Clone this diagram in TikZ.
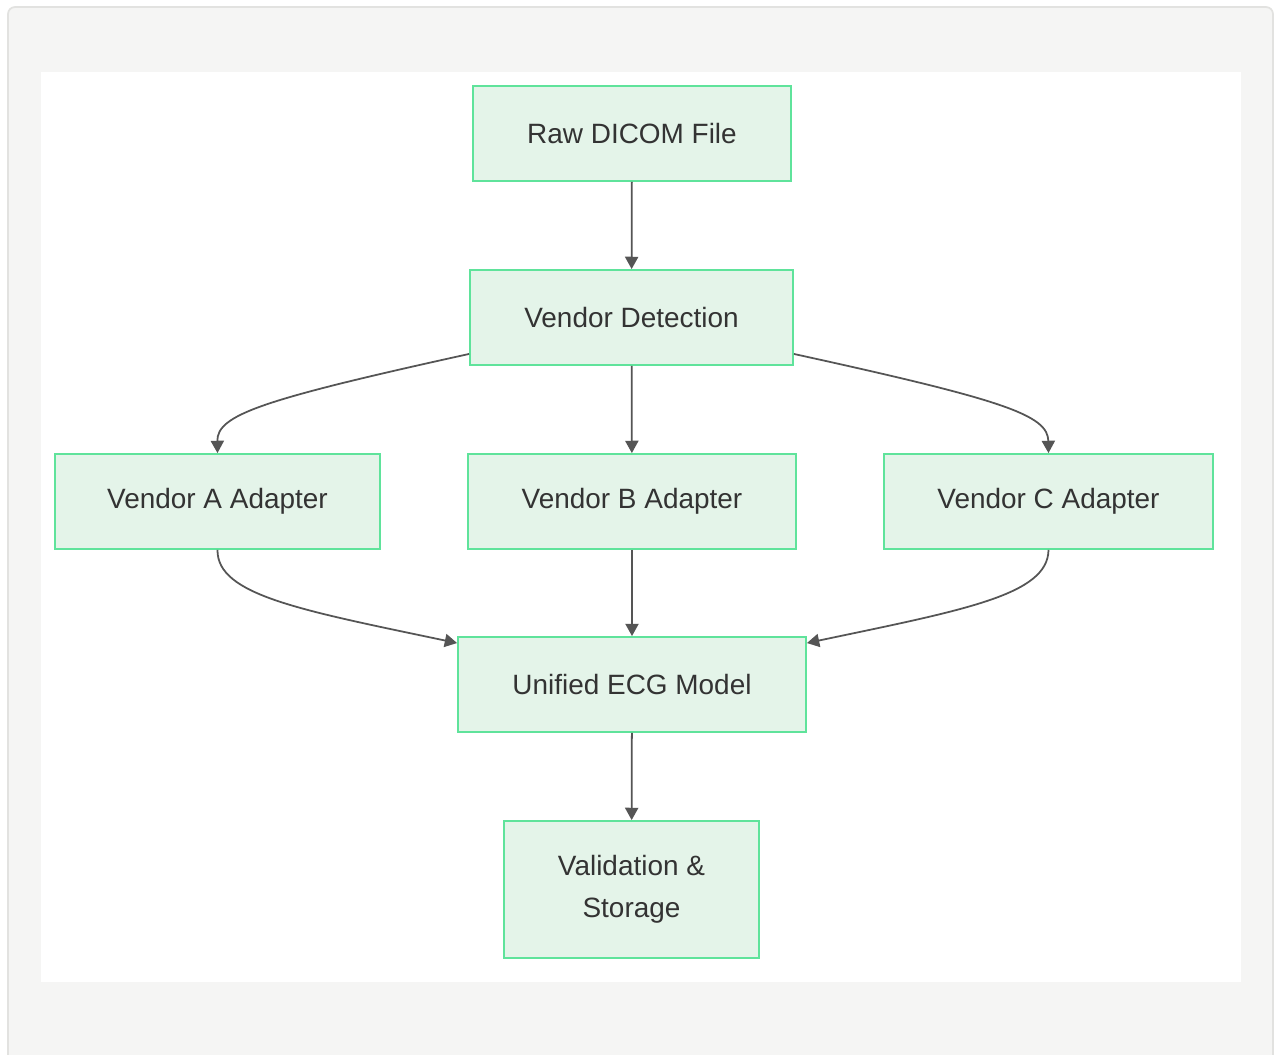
\documentclass[tikz,border=0pt]{standalone}
\usepackage{fontspec}
\setmainfont{Liberation Sans}
\usepackage{xcolor}
\usetikzlibrary{arrows.meta}

\definecolor{boxfill}{HTML}{E4F4E9}
\definecolor{boxline}{HTML}{5FE39B}
\definecolor{edgegray}{HTML}{555555}
\definecolor{framegray}{HTML}{F5F5F4}
\definecolor{frameline}{HTML}{E2E2E0}
\definecolor{textgray}{HTML}{333333}

\begin{document}
\begin{tikzpicture}[x=0.02cm,y=-0.02cm,
	box/.style={draw=boxline,fill=boxfill,line width=1.1pt,minimum height=1.9cm,
		text=textgray,align=center,font=\fontsize{15.9}{23.8}\selectfont},
	flow/.style={draw=edgegray,line width=1pt,-{Triangle[length=7pt,width=7.5pt]}}]
	\useasboundingbox (0,0) rectangle (1276,1055);
	\draw[fill=framegray,draw=frameline,line width=1pt,rounded corners=4pt] (8,7) rectangle (1273,1070);
	\fill[white] (41,72) rectangle (1241,982);
	
	\node[box,minimum width=6.36cm] (raw) at (632,133.5) {Raw DICOM File};
	\node[box,minimum width=6.46cm] (detect) at (631.5,317.5) {Vendor Detection};
	\node[box,minimum width=6.5cm] (vena) at (217.5,501.5) {Vendor A Adapter};
	\node[box,minimum width=6.56cm] (venb) at (632,501.5) {Vendor B Adapter};
	\node[box,minimum width=6.58cm] (venc) at (1048.5,501.5) {Vendor C Adapter};
	\node[box,minimum width=6.96cm] (unified) at (632,684.5) {Unified ECG Model};
	\node[box,minimum width=5.1cm,minimum height=2.74cm] (store) at (631.5,889.5) {Validation \&\\Storage};
	
	\draw[flow] (raw) -- (detect);
	\draw[flow] ([yshift=0.24cm]detect.south west) .. controls (260,400) and (217,415) .. (vena.north);
	\draw[flow] (detect) -- (venb);
	\draw[flow] ([yshift=0.24cm]detect.south east) .. controls (1004,400) and (1048,415) .. (venc.north);
	\draw[flow] (vena.south) .. controls (217,595) and (300,610) .. ([yshift=-0.14cm]unified.north west);
	\draw[flow] (venb) -- (unified);
	\draw[flow] (venc.south) .. controls (1048,595) and (964,610) .. ([yshift=-0.14cm]unified.north east);
	\draw[flow] (unified) -- (store);
\end{tikzpicture}
\end{document}
